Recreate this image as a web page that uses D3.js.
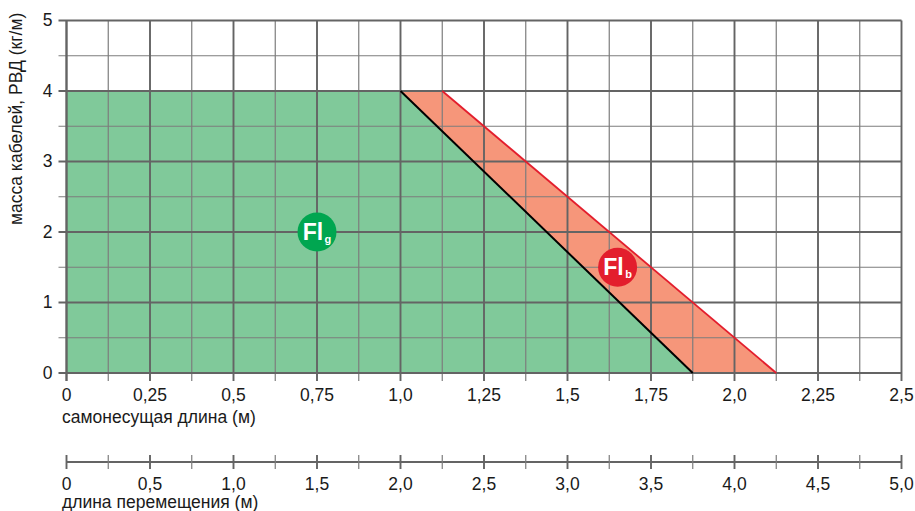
<!DOCTYPE html>
<html>
<head>
<meta charset="utf-8">
<script src="https://cdn.jsdelivr.net/npm/d3@7"></script>
<style>
  html, body { margin: 0; padding: 0; background: #fff; overflow: hidden; }
  svg { display: block; }
  text { font-family: "Liberation Sans", Arial, sans-serif; fill: #1a1a1a; }
</style>
</head>
<body>
<svg id="chart" width="915" height="511"></svg>
<script>
var width = 915;
var height = 511;

var xMajor = [0, 0.25, 0.5, 0.75, 1.0, 1.25, 1.5, 1.75, 2.0, 2.25, 2.5];
var xMajorLabels = ["0", "0,25", "0,5", "0,75", "1,0", "1,25", "1,5", "1,75", "2,0", "2,25", "2,5"];
var xMinor = [0.125, 0.375, 0.625, 0.875, 1.125, 1.375, 1.625, 1.875, 2.125, 2.375];
var yMajor = [0, 1, 2, 3, 4, 5];
var yMinor = [0.5, 1.5, 2.5, 3.5, 4.5];

var moveMajor = [0, 0.5, 1.0, 1.5, 2.0, 2.5, 3.0, 3.5, 4.0, 4.5, 5.0];
var moveLabels = ["0", "0,5", "1,0", "1,5", "2,0", "2,5", "3,0", "3,5", "4,0", "4,5", "5,0"];
var moveMinor = [0.25, 0.75, 1.25, 1.75, 2.25, 2.75, 3.25, 3.75, 4.25, 4.75];

var greenArea = [[0, 0], [0, 4], [1, 4], [1.875, 0]];
var redArea = [[1, 4], [1.125, 4], [2.125, 0], [1.875, 0]];
var greenEdge = [[1, 4], [1.875, 0]];
var redEdge = [[1.125, 4], [2.125, 0]];

var badges = [
  { x: 0.75, y: 2, main: "Fl", sub: "g", color: "#00a650" },
  { x: 1.65, y: 1.5, main: "Fl", sub: "b", color: "#e31e2d" }
];

var gridColor = "#646464";
var fontSize = 17.5;

var x = d3.scaleLinear().domain([0, 2.5]).range([66.5, 901.5]);
var y = d3.scaleLinear().domain([0, 5]).range([373, 20.5]);
var xMove = d3.scaleLinear().domain([0, 5]).range([66.5, 901.5]);

var svg = d3.select("#chart");
var line = d3.line().x(function (d) { return x(d[0]); }).y(function (d) { return y(d[1]); });

// areas go under the grid
svg.append("path").attr("d", line(greenArea) + "Z").attr("fill", "#80c99a");
svg.append("path").attr("d", line(redArea) + "Z").attr("fill", "#f6967a");

// grid
var grid = svg.append("g");
grid.selectAll("line.vminor").data(xMinor).enter().append("line")
  .attr("class", "vminor")
  .attr("x1", x).attr("x2", x)
  .attr("y1", y(5)).attr("y2", y(0) + 8)
  .attr("stroke", "#7d7d7d").attr("stroke-width", 1.2);

grid.selectAll("line.hminor").data(yMinor).enter().append("line")
  .attr("class", "hminor")
  .attr("x1", x(0) - 8).attr("x2", x(2.5))
  .attr("y1", y).attr("y2", y)
  .attr("stroke", "#7d7d7d").attr("stroke-width", 1.2);

grid.selectAll("line.vmajor").data(xMajor).enter().append("line")
  .attr("class", "vmajor")
  .attr("x1", x).attr("x2", x)
  .attr("y1", y(5)).attr("y2", y(0) + 8)
  .attr("stroke", gridColor).attr("stroke-width", function (d) { return d === 0 ? 2.4 : 1.9; });

grid.selectAll("line.hmajor").data(yMajor).enter().append("line")
  .attr("class", "hmajor")
  .attr("x1", x(0) - 8).attr("x2", x(2.5))
  .attr("y1", y).attr("y2", y)
  .attr("stroke", gridColor).attr("stroke-width", 1.9);

// edges of the areas
svg.append("path").attr("d", line(greenEdge)).attr("fill", "none")
  .attr("stroke", "#000").attr("stroke-width", 2);
svg.append("path").attr("d", line(redEdge)).attr("fill", "none")
  .attr("stroke", "#e31e2d").attr("stroke-width", 1.8);

// tick labels
svg.selectAll("text.xlab").data(xMajor).enter().append("text")
  .attr("class", "xlab")
  .attr("x", x).attr("y", 401)
  .attr("text-anchor", "middle").attr("font-size", fontSize)
  .text(function (d, i) { return xMajorLabels[i]; });

svg.selectAll("text.ylab").data(yMajor).enter().append("text")
  .attr("class", "ylab")
  .attr("x", 52.5).attr("y", function (d) { return y(d) + 5.5; })
  .attr("text-anchor", "end").attr("font-size", fontSize)
  .text(function (d) { return d; });

svg.append("text").attr("x", 62).attr("y", 422.5).attr("font-size", fontSize)
  .text("самонесущая длина (м)");

svg.append("text")
  .attr("transform", "translate(22,225) rotate(-90)")
  .attr("font-size", fontSize).text("масса кабелей, РВД (кг/м)");

// second axis
var axisY = 462;
var moveAxis = svg.append("g");
moveAxis.append("line")
  .attr("x1", xMove(0)).attr("x2", xMove(5))
  .attr("y1", axisY).attr("y2", axisY)
  .attr("stroke", gridColor).attr("stroke-width", 1.9);
moveAxis.selectAll("line.minor").data(moveMinor).enter().append("line")
  .attr("class", "minor")
  .attr("x1", xMove).attr("x2", xMove)
  .attr("y1", axisY - 7).attr("y2", axisY + 7)
  .attr("stroke", "#7d7d7d").attr("stroke-width", 1.2);
moveAxis.selectAll("line.major").data(moveMajor).enter().append("line")
  .attr("class", "major")
  .attr("x1", xMove).attr("x2", xMove)
  .attr("y1", axisY - 7).attr("y2", axisY + 7)
  .attr("stroke", gridColor).attr("stroke-width", 1.9);

svg.selectAll("text.movelab").data(moveMajor).enter().append("text")
  .attr("class", "movelab")
  .attr("x", xMove).attr("y", 490)
  .attr("text-anchor", "middle").attr("font-size", fontSize)
  .text(function (d, i) { return moveLabels[i]; });

svg.append("text").attr("x", 62).attr("y", 508).attr("font-size", fontSize)
  .text("длина перемещения (м)");

// Fl badges
var badge = svg.selectAll("g.badge").data(badges).enter().append("g")
  .attr("class", "badge")
  .attr("transform", function (d) { return "translate(" + x(d.x) + "," + y(d.y) + ")"; });
badge.append("circle").attr("r", 19.5).attr("fill", function (d) { return d.color; });
var label = badge.append("text")
  .attr("text-anchor", "middle").attr("y", 8)
  .attr("font-weight", "bold").attr("font-size", 23)
  .style("fill", "#fff");
label.append("tspan").text(function (d) { return d.main; });
label.append("tspan").attr("font-size", 11).attr("dx", 1.5).attr("dy", 2.5).text(function (d) { return d.sub; });
</script>
</body>
</html>
